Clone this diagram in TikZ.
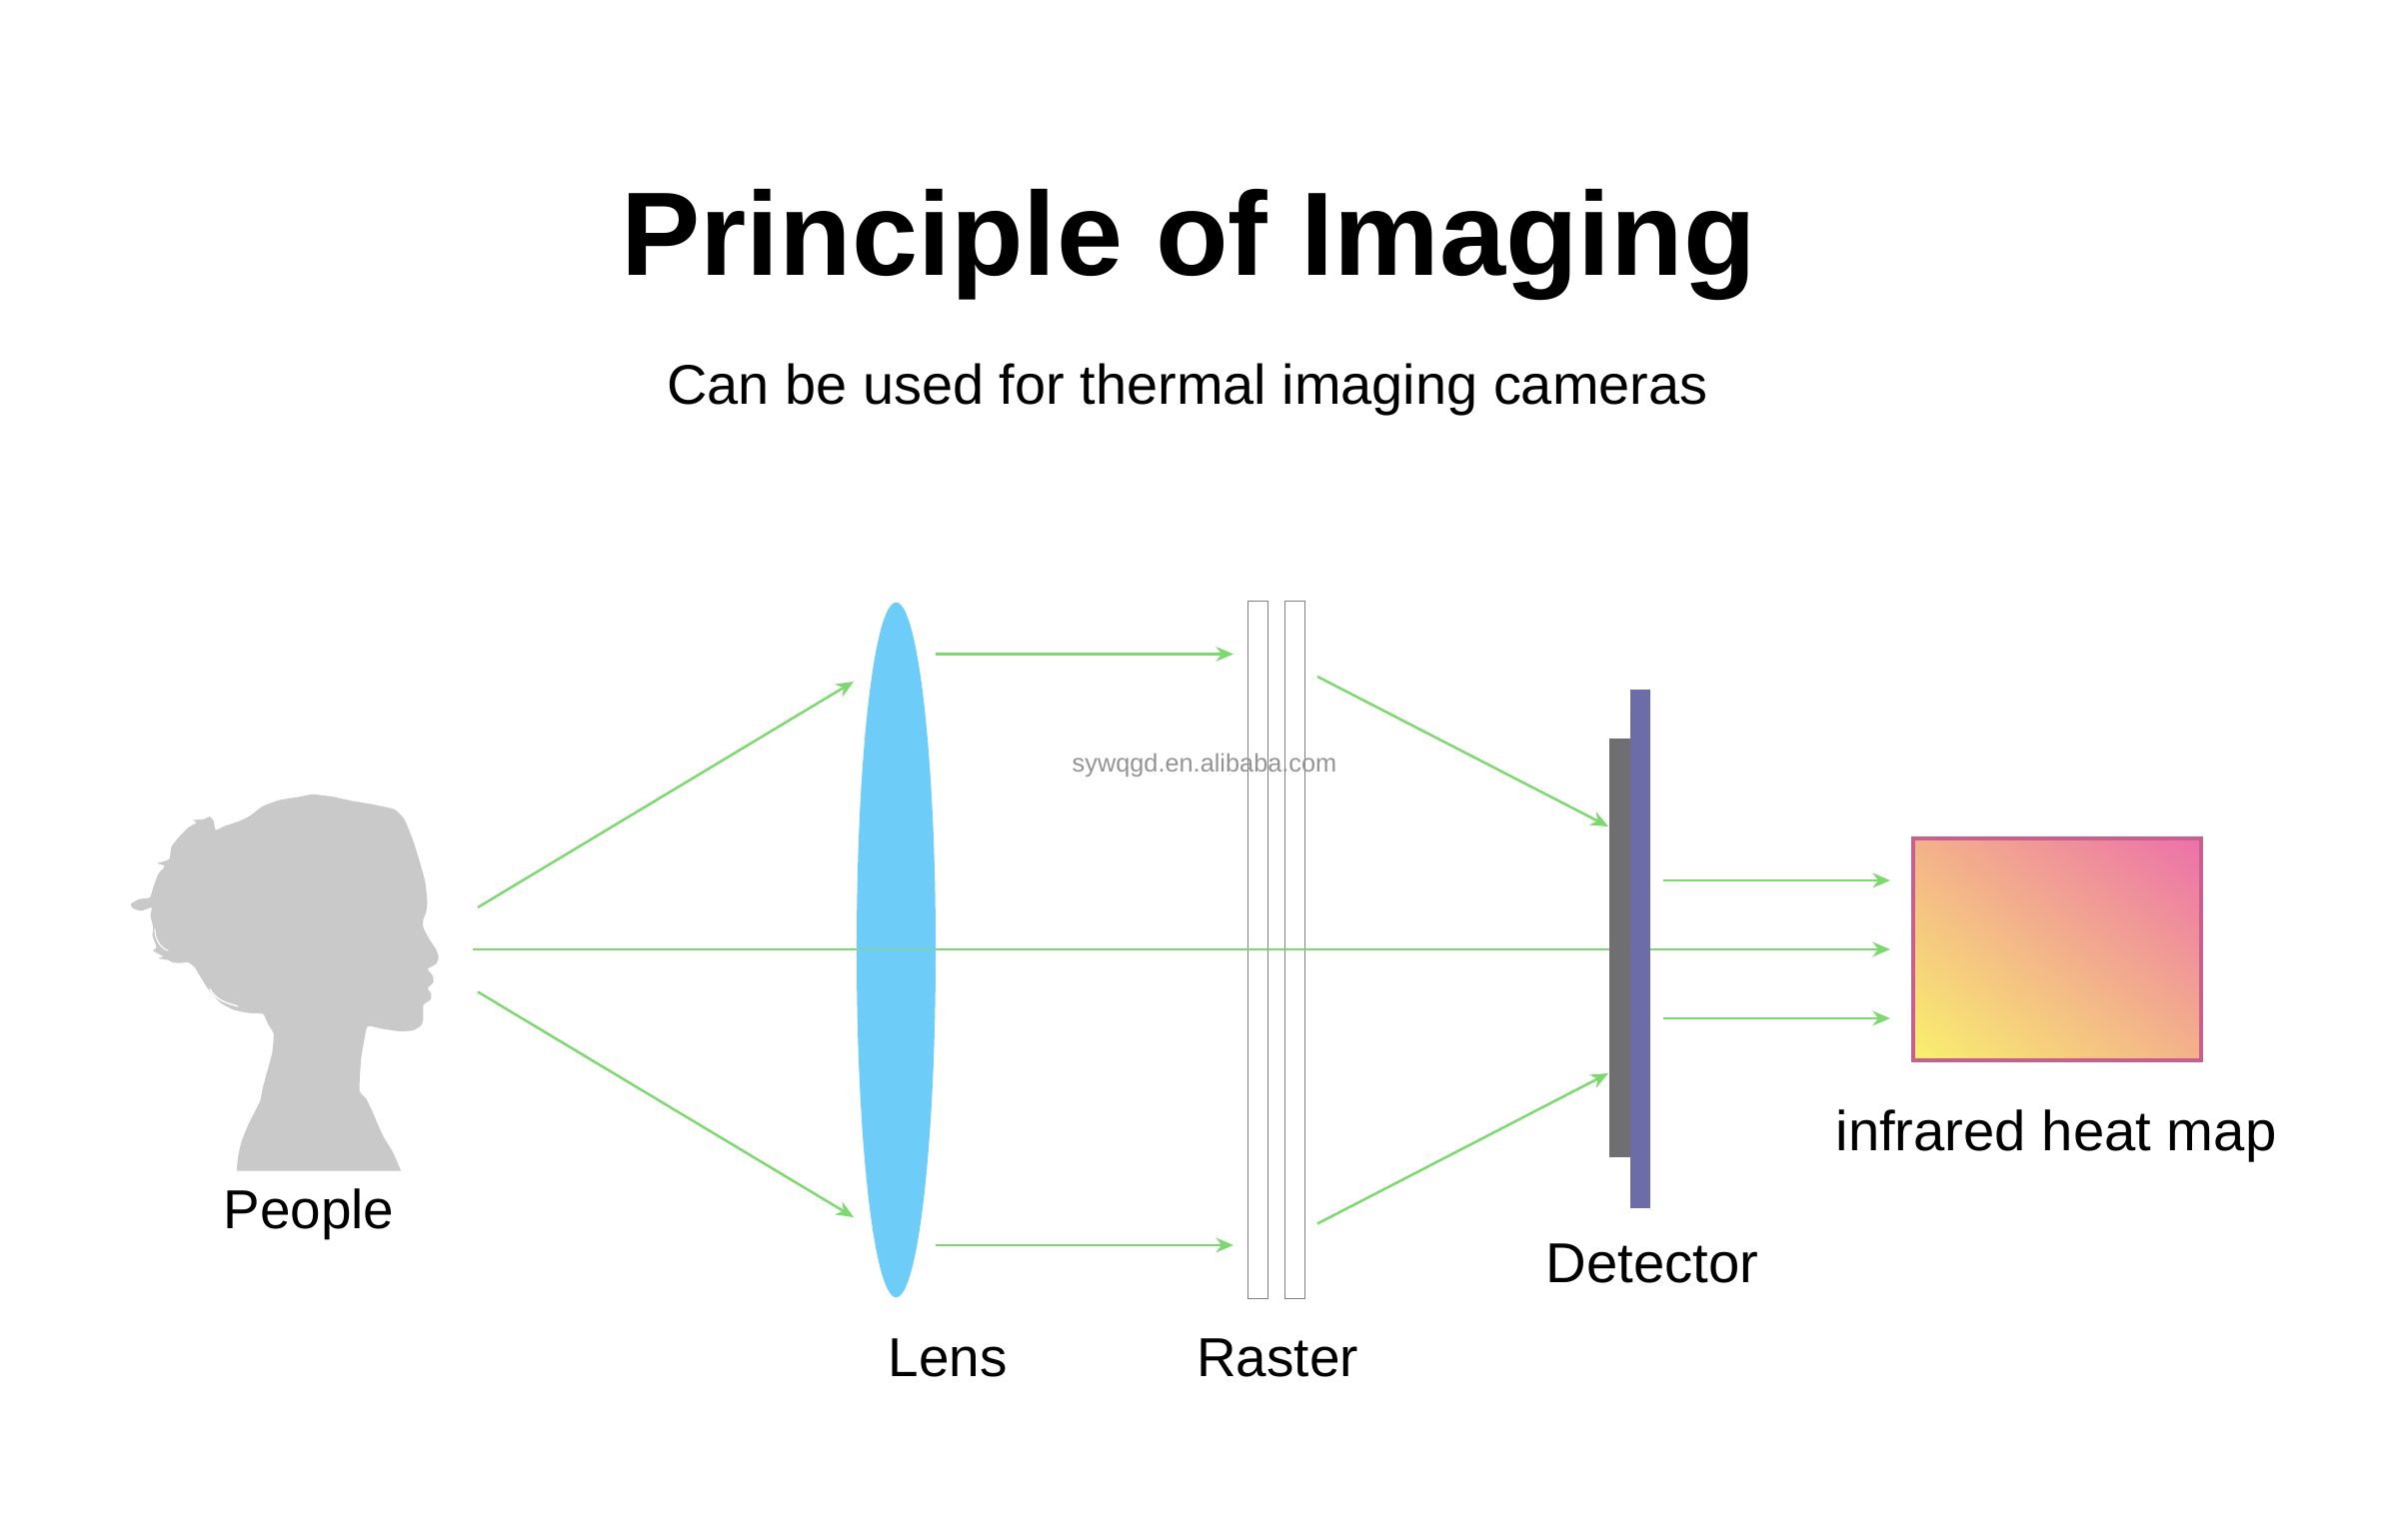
\documentclass[tikz,border=0pt]{standalone}
\usepackage{fontspec}
\usepackage{xcolor}
\setmainfont{Liberation Sans}
\usetikzlibrary{arrows.meta,shapes.geometric,shadings}
\definecolor{raygreen}{HTML}{7DD870}
\definecolor{lensblue}{HTML}{6ECCF9}
\definecolor{rayteal}{HTML}{7CD3AC}
\definecolor{sensorgrey}{HTML}{6F6F72}
\definecolor{sensorblue}{HTML}{6C6CA8}
\definecolor{headgrey}{HTML}{C9C9C9}
\definecolor{mapedge}{HTML}{C8608F}
\definecolor{mapcold}{HTML}{F9F16E}
\definecolor{mapmid}{HTML}{F3B28A}
\definecolor{maphot}{HTML}{EC70AA}

\begin{document}
\begin{tikzpicture}[
  x=0.01cm, y=-0.01cm,
  title/.style={font=\fontsize{33.8}{36}\selectfont\bfseries, anchor=base},
  subtitle/.style={font=\fontsize{15.9}{18}\selectfont, anchor=base},
  caption/.style={font=\fontsize{15.6}{18}\selectfont, anchor=base},
  mark text/.style={font=\fontsize{7.2}{9}\selectfont, text=black!42, anchor=base},
  ray/.style={draw=raygreen, line width=0.7pt, -{Stealth[length=5pt,width=4.2pt]}},
  plate/.style={draw=black!50, line width=0.4pt, minimum width=0.2cm, minimum height=6.97cm, inner sep=0pt},
  bar/.style={inner sep=0pt}
]
\path[use as bounding box, fill=white] (0,0) rectangle (2409,1528);

\node[title] (head) at (1189,276) {Principle of Imaging};
\node[subtitle] (sub) at (1188,405) {Can be used for thermal imaging cameras};

% silhouette
\begin{scope}[shift={(100,760)}, x=0.00333cm, y=-0.00333cm]
\fill[headgrey] plot[smooth, tension=0.3] coordinates {
  (411,1237) (415,1195) (425,1150) (445,1100) (470,1050) (482,1025) (490,985) (505,930)
  (518,880) (522,825) (505,795) (490,765) (445,762) (400,752) (360,730) (325,690)
  (300,650) (285,625) (265,610) (240,612) (218,610) (205,603) (175,598) (190,592)
  (160,575) (170,565) (158,530) (160,505) (152,470) (155,445) (125,455) (100,448)
  (92,435) (118,420) (150,415) (160,385) (175,345) (195,320) (172,312) (208,300)
  (215,262) (240,230) (265,205) (290,190) (280,182) (310,180) (330,172) (342,185)
  (348,212) (375,200) (420,185) (450,170) (490,140) (540,122) (600,112) (640,105)
  (700,112) (760,125) (820,135) (885,150) (915,180) (940,240) (962,310) (978,370)
  (984,430) (980,460) (972,480) (972,505) (990,540) (1010,570) (1018,595) (1010,615)
  (985,630) (1000,650) (1002,670) (985,688) (996,705) (994,722) (972,738) (972,780)
  (965,800) (940,815) (900,817) (850,810) (805,802) (795,840) (785,900) (780,995)
  (800,1020) (815,1050) (850,1130) (880,1180) (905,1237)} -- cycle;
\draw[white, line width=0.4pt] (330,690) .. controls (350,725) and (380,732) .. (415,742);
\draw[white, line width=0.3pt] (165,510) .. controls (165,540) and (180,565) .. (205,575);
\end{scope}
\node[caption] (people) at (309,1229) {People};

% optics
\node[ellipse, fill=lensblue, inner sep=0pt, minimum width=0.79cm, minimum height=6.95cm] (lens) at (896.5,950.5) {};
\node[plate] (rasterA) at (1258.5,950.5) {};
\node[plate] (rasterB) at (1295.5,950.5) {};
\node[caption] (lenstxt) at (948,1377) {Lens};
\node[caption] (rastertxt) at (1278,1377) {Raster};

% rays
\coordinate (a1) at (478,908);
\coordinate (a2) at (854,682);
\coordinate (b1) at (473,950);
\coordinate (b2) at (1891,950);
\coordinate (c1) at (478,992.5);
\coordinate (c2) at (854,1218);
\coordinate (d1) at (936,654.5);
\coordinate (d2) at (1234,654.5);
\coordinate (e1) at (936,1246);
\coordinate (e2) at (1234,1246);
\coordinate (f1) at (1318,677);
\coordinate (f2) at (1609,827);
\coordinate (g1) at (1318,1224.5);
\coordinate (g2) at (1609,1074);
\coordinate (h1) at (1664,881);
\coordinate (h2) at (1891,881);
\coordinate (k1) at (1664,1019);
\coordinate (k2) at (1891,1019);
\draw[ray] (a1) -- (a2);
\draw[ray] (b1) -- (b2);
\draw[ray] (c1) -- (c2);
\draw[ray] (d1) -- (d2);
\draw[ray] (e1) -- (e2);
\draw[ray] (f1) -- (f2);
\draw[ray] (g1) -- (g2);
\draw[ray] (h1) -- (h2);
\draw[ray] (k1) -- (k2);
\draw[rayteal, line width=0.7pt] (lens.west |- b1) -- (lens.east |- b1);

% detector
\node[bar, fill=sensorgrey, minimum width=0.21cm, minimum height=4.19cm] (sensor) at (1620.5,948.5) {};
\node[bar, fill=sensorblue, minimum width=0.2cm, minimum height=5.19cm] (plate) at (1641,949.5) {};
\node[caption, font=\fontsize{16}{18}\selectfont] (dettxt) at (1653,1283) {Detector};

% heat map
\node[draw=mapedge, line width=1.1pt, inner sep=0pt, minimum width=2.88cm, minimum height=2.22cm,
  lower left=mapcold, upper right=maphot, upper left=mapmid, lower right=mapmid] (map) at (2058,950) {};
\node[caption, font=\fontsize{16}{18}\selectfont] (maptxt) at (2057,1151) {infrared heat map};

\node[mark text] (wm) at (1205,772) {sywqgd.en.alibaba.com};
\end{tikzpicture}
\end{document}
